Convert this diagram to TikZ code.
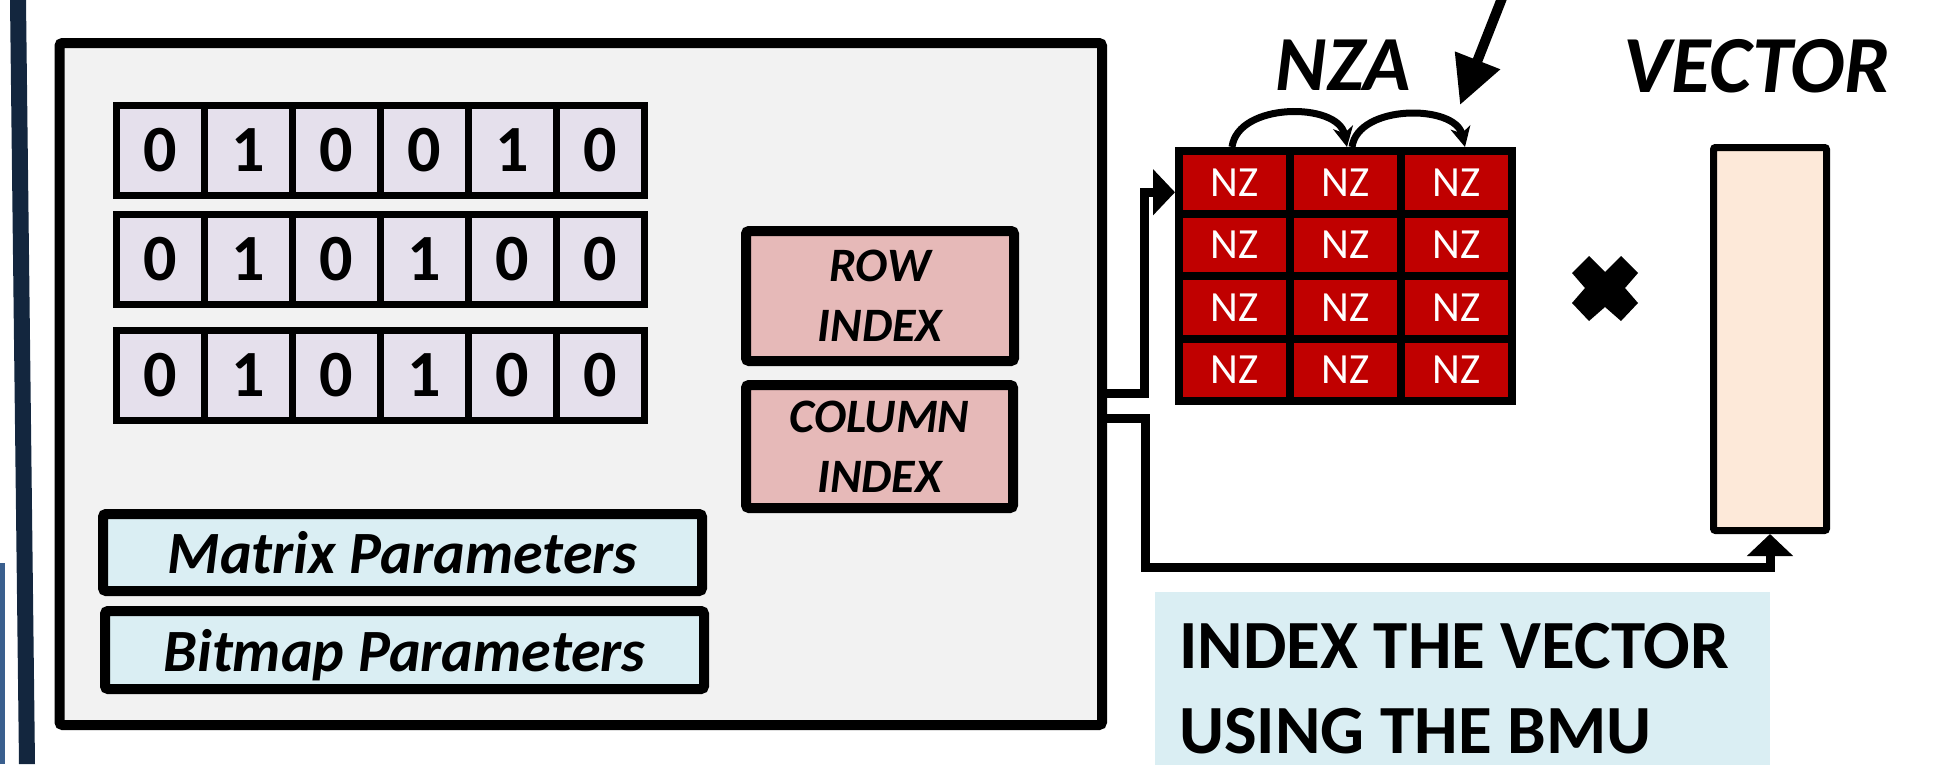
\documentclass[tikz,border=0pt]{standalone}
\usepackage{fontspec}
\setmainfont{Carlito}
\usetikzlibrary{arrows.meta}
\definecolor{boxbg}{HTML}{F2F2F2}
\definecolor{cellc}{HTML}{E5E0EC}
\definecolor{parc}{HTML}{DAEEF3}
\definecolor{idxc}{HTML}{E6B9B8}
\definecolor{nzc}{HTML}{C00000}
\definecolor{vecc}{HTML}{FDE9D9}
\definecolor{navy}{HTML}{13263E}
\definecolor{lblue}{HTML}{3A5F8E}
\tikzset{
  bitcell/.style={draw, line width=7pt, fill=cellc, minimum width=88pt, minimum height=90pt, inner sep=0pt, font=\fontsize{66}{66}\selectfont\bfseries},
  parbox/.style={draw, line width=10pt, fill=parc, minimum width=599pt, minimum height=77pt, inner sep=0pt, rounded corners=3pt, text depth=0pt, font=\fontsize{60}{72}\selectfont\bfseries\itshape},
  idxbox/.style={draw, line width=10pt, fill=idxc, minimum width=268pt, inner sep=0pt, rounded corners=3pt, align=center, font=\fontsize{48}{60}\selectfont\bfseries\itshape},
  nz/.style={draw, line width=8pt, fill=nzc, minimum width=111pt, minimum height=62.5pt, inner sep=0pt, text=white, font=\fontsize{43}{43}\selectfont},
  lbl/.style={inner sep=0pt, font=\fontsize{78}{78}\selectfont\bfseries\itshape},
  conn/.style={line width=9pt, -{Triangle[length=22pt,width=45pt]}},
  carc/.style={line width=7pt, -{Stealth[length=20pt,width=20pt,inset=6pt]}},
  bigarr/.style={line width=10pt, -{Triangle[length=48pt,width=46pt]}}
}
\begin{document}
\begin{tikzpicture}[x=1pt,y=-1pt]
\useasboundingbox (0,0) rectangle (1939,764);
% left edge bars
\fill[navy] (10,0) -- (26,0) -- (35,764) -- (19,764) -- cycle;
\fill[lblue] (0,563) rectangle (5,764);
% main box
\node[draw, line width=10pt, fill=boxbg, minimum width=1042.5pt, minimum height=682pt, inner sep=0pt, rounded corners=3pt] (bmu) at (580.75,384) {};
% bitmap rows
\foreach \r/\yy/\bits in {1/150.5/{0,1,0,0,1,0},2/259/{0,1,0,1,0,0},3/375.5/{0,1,0,1,0,0}}{
  \foreach \b [count=\c] in \bits {
    \node[bitcell] (b\r\c) at ({72.5+88*\c},\yy) {\b};
  }
}
% parameter boxes
\node[parbox] (mp) at (402.5,552.5) {Matrix Parameters};
\node[parbox, minimum height=78pt] (bp) at (404.5,650) {Bitmap Parameters};
% index boxes
\node[idxbox, minimum height=130pt] (ri) at (880,296) {ROW\\INDEX};
\node[idxbox, minimum height=123pt, minimum width=267pt] (ci) at (879.5,446.5) {COLUMN\\INDEX};
% NZA matrix
\foreach \r in {1,...,4}{
  \foreach \c in {1,2,3}{
    \node[nz] (n\r\c) at ({1123.5+111*\c},{119.75+62.5*\r}) {NZ};
  }
}
\node[lbl, anchor=base] (nzalbl) at (1343.5,90) {NZA};
\node[lbl, anchor=base, font=\fontsize{81}{81}\selectfont\bfseries\itshape] (veclbl) at (1757,92) {VECTOR};
% vector
\node[draw, line width=7pt, fill=vecc, minimum width=113pt, minimum height=383pt, inner sep=0pt, rounded corners=2pt] (vec) at (1770,339) {};
% multiplication sign
\fill (1589,256) -- (1605,272) -- (1621,256) -- (1638,273) -- (1625,288) -- (1638,303) -- (1621,321) -- (1605,307) -- (1589,321) -- (1572,303) -- (1585,288) -- (1572,273) -- cycle;
% note box
\node[fill=parc, anchor=north west, minimum width=615pt, minimum height=190pt, inner sep=0pt] (note) at (1155,592) {};
\node[anchor=base west, inner sep=0pt, align=left, font=\fontsize{69}{85}\selectfont\bfseries] (notetxt) at (1179,753) {INDEX THE VECTOR\\USING THE BMU};
% connectors
\draw[conn] (bmu.east |- 0,393) -- ++(37,0) |- ([yshift=-10pt]n11.west);
\draw[conn] (bmu.east |- 0,418) -- ++(38,0) -- ++(0,149) -| (vec.south);
% curved arrows
\draw[carc] ([xshift=-2.5pt]n11.north) .. controls +(6,-45) and +(-9,-45) .. ([xshift=1.5pt]n12.north);
\draw[carc] ([xshift=6.5pt]n12.north) .. controls +(6,-43) and +(-10,-43) .. ([xshift=8.5pt]n13.north);
% big arrow from above
\coordinate (src) at (1506,-12);
\draw[bigarr] (src) -- ([shift={(3.5,-42)}]n13.north);
\end{tikzpicture}
\end{document}
